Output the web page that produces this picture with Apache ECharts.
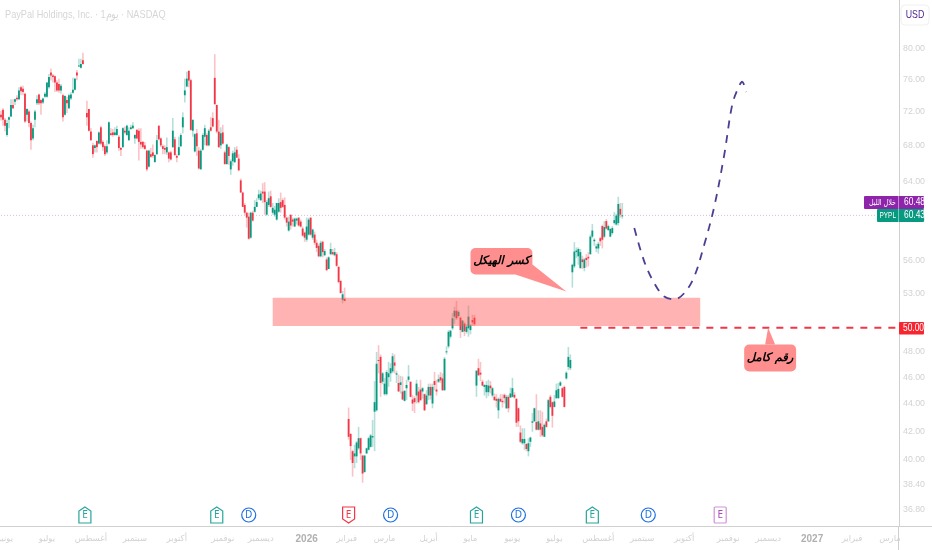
<!DOCTYPE html>
<html><head><meta charset="utf-8">
<style>html,body{margin:0;padding:0;background:#fff}#c{width:932px;height:550px}</style>
<script src="https://cdn.jsdelivr.net/npm/echarts@6/dist/echarts.min.js"></script>
</head><body><div id="c"></div>
<script>
const opens=[71.6,72.2,71.0,69.2,71.0,71.4,72.8,73.2,73.7,73.5,
75.0,74.8,74.2,71.6,72.0,70.6,68.8,71.0,73.0,74.1,
73.4,73.1,73.8,73.8,75.0,76.9,76.5,76.4,75.6,75.4,
74.6,74.0,71.6,73.4,72.4,73.6,74.3,74.7,76.9,77.7,
77.5,78.5,null,
71.8,72.3,69.6,68.0,67.7,68.5,68.2,70.1,68.4,67.9,
67.2,68.2,69.4,69.5,69.2,69.2,69.0,67.7,67.8,69.7,
69.2,68.6,69.9,70.0,68.8,69.8,69.7,68.4,68.4,68.0,
67.4,65.6,67.0,67.2,66.1,67.0,70.3,68.8,67.9,67.7,
67.2,67.2,67.2,67.8,68.7,66.8,66.9,67.9,70.1,74.0,
75.1,77.1,75.9,69.7,67.3,69.4,67.4,65.3,67.5,69.0,
69.2,68.0,70.1,71.2,76.2,72.8,69.6,68.0,69.5,67.2,
65.9,67.8,65.3,66.2,66.1,67.5,66.5,64.1,62.8,61.5,
60.7,60.3,58.2,60.7,60.8,61.3,62.2,62.0,62.9,62.9,
60.5,61.5,62.4,60.7,60.5,60.0,60.8,61.8,62.0,61.5,
60.2,58.9,60.5,60.0,59.3,59.9,60.2,59.8,59.1,58.7,
58.0,58.5,60.2,58.2,58.5,57.7,57.4,56.4,57.8,56.5,
56.1,55.2,56.6,56.8,56.5,56.6,55.4,54.1,52.4,52.5,null,
42.87,41.8,40.6,40.25,40.25,40.8,41.5,40.3,39.2,40.45,
40.7,40.9,41.55,43.4,43.5,47.35,47.6,45.65,44.7,44.7,
46.0,46.3,46.45,47.15,46.2,45.55,45.4,44.9,44.2,45.15,
45.8,45.65,44.3,44.4,44.6,44.9,45.05,44.9,44.7,43.95,
44.6,45.25,44.0,45.7,45.05,45.65,46.0,45.9,45.0,48.0,
48.45,49.25,49.95,50.95,51.45,51.0,50.85,49.65,50.35,49.65,
49.95,49.8,50.65,50.85,45.35,46.7,46.35,45.65,45.25,44.85,
44.85,45.35,44.6,44.5,44.35,43.5,44.35,44.2,44.65,43.65,
44.5,44.45,44.5,44.65,44.35,43.65,41.9,41.15,41.15,41.1,
40.6,41.25,42.6,42.7,42.65,42.1,42.55,42.3,41.6,42.7,
42.7,44.5,44.1,43.75,44.4,44.4,45.35,45.15,45.25,45.9,
46.8,46.7,54.9,55.45,56.8,56.4,55.3,56.1,55.3,56.25,
56.35,56.6,58.3,57.85,57.15,57.15,58.15,59.35,58.3,59.85,
58.95,58.3,58.65,59.65,59.5,59.65,61.1,60.35];
const closes=[71.3,71.0,70.3,70.6,71.3,72.8,72.4,73.5,73.5,74.6,
74.5,74.4,70.8,72.3,70.6,68.6,70.0,72.0,73.5,73.0,
73.0,73.6,74.2,75.6,76.3,76.5,76.3,75.6,74.6,74.6,
75.2,71.3,73.9,73.0,74.0,74.1,74.7,76.1,76.5,77.8,
78.0,78.0,null,
71.3,69.7,68.6,67.0,68.0,67.8,69.5,68.2,67.8,67.0,
67.9,70.7,69.2,69.2,69.5,69.9,67.7,67.5,70.0,69.5,
70.3,69.7,70.1,70.3,69.2,68.8,68.4,68.1,67.8,67.6,
65.3,67.4,66.7,66.8,66.9,68.6,68.7,68.0,67.6,67.5,
67.8,66.5,66.4,69.7,66.9,66.6,67.8,69.2,71.3,74.6,
76.1,75.85,69.8,71.0,69.3,67.9,65.4,67.4,69.2,70.0,
68.0,69.7,69.7,70.2,72.9,69.6,67.8,69.4,68.2,65.9,
68.1,66.8,66.2,67.1,67.2,66.6,65.2,62.8,61.3,60.7,
60.2,58.1,60.7,59.9,61.3,61.8,62.6,62.7,62.7,61.8,
61.8,62.2,61.3,61.2,61.0,61.7,61.7,61.2,61.3,60.2,
59.7,59.8,59.4,59.8,60.1,60.1,59.4,59.3,58.4,58.2,
59.3,60.0,58.5,59.0,57.7,57.2,56.4,57.7,56.8,56.9,
55.1,56.3,57.1,56.6,56.8,55.5,54.0,53.0,52.9,52.3,null,
41.6,40.95,39.8,40.45,41.2,41.5,40.45,39.1,40.3,40.8,
41.5,41.7,41.65,44.1,47.05,47.3,45.55,46.3,45.5,46.4,
46.3,46.7,47.65,46.9,46.3,44.9,45.6,44.3,44.95,45.4,
46.05,44.5,44.0,44.1,45.5,44.1,44.25,45.15,43.5,44.6,
45.25,44.6,45.25,45.4,44.9,45.85,45.75,45.0,47.45,48.05,
49.65,49.75,50.8,51.45,50.8,51.35,49.8,50.6,49.7,50.1,
50.95,50.2,50.45,50.3,46.5,46.15,46.2,45.35,45.4,45.4,
45.35,45.15,45.15,44.25,44.2,44.35,44.15,44.1,44.4,44.5,
43.65,44.75,45.15,44.45,42.6,42.7,41.25,41.45,41.45,40.75,
41.15,41.55,42.7,43.65,42.1,42.7,42.1,41.7,42.45,42.3,
44.25,43.75,43.1,44.15,45.0,45.1,45.6,44.5,43.75,46.35,
47.6,47.35,55.6,56.85,56.95,57.1,56.8,55.85,56.1,56.05,
56.2,58.3,58.9,58.0,57.35,57.6,57.85,58.0,59.25,59.1,
59.35,59.05,59.15,59.95,60.4,61.6,60.5,60.43];
const highs=[72.1,72.4,71.2,71.0,71.4,73.5,73.5,73.6,74.0,75.0,
75.2,75.2,74.3,72.4,72.2,70.8,70.4,72.2,74.0,74.2,
73.5,73.7,74.4,75.6,76.7,77.4,76.7,76.5,75.9,76.1,
75.4,74.2,74.0,73.8,74.2,74.4,76.2,76.2,77.2,78.7,
78.7,79.5,null,
73.3,72.3,70.0,68.3,68.1,68.6,69.6,70.3,68.6,68.1,
68.6,70.8,70.0,69.9,70.1,70.3,69.2,67.8,70.1,70.2,
70.4,70.1,70.4,70.7,69.3,69.9,70.0,70.0,68.5,68.4,
67.5,67.5,67.7,68.1,67.0,69.2,70.3,68.9,68.1,68.0,
68.9,67.3,67.4,71.2,69.0,67.0,69.0,69.4,71.9,76.1,
77.0,77.2,76.1,71.0,69.4,69.9,67.8,67.6,69.4,70.4,
69.4,69.9,71.3,71.9,79.3,72.8,71.0,70.1,70.4,67.4,
68.2,67.9,66.4,67.4,67.8,67.9,67.0,64.3,62.9,61.7,
60.8,60.7,60.8,60.9,62.0,62.2,63.1,63.0,63.8,63.9,
62.0,62.9,63.0,61.7,61.4,61.7,62.2,62.8,62.2,62.3,
60.3,60.3,60.5,60.2,60.2,60.2,60.2,60.0,59.3,58.8,
60.2,60.2,60.2,59.1,58.8,58.0,57.6,57.9,57.9,57.1,
56.3,56.4,57.7,57.1,57.2,56.8,55.5,54.2,53.2,53.5,null,
43.7,41.85,40.7,41.05,41.3,42.3,41.55,40.35,40.35,40.85,
41.6,41.8,42.8,45.7,48.0,48.55,47.8,46.4,45.95,46.55,
47.2,47.1,47.9,47.8,46.5,46.2,46.1,46.05,45.0,45.8,
46.95,45.65,44.65,44.55,45.8,45.25,45.8,45.25,44.75,45.0,
45.5,45.5,45.5,46.4,45.8,46.2,46.4,46.3,47.6,48.45,
49.8,49.8,51.25,51.8,52.3,51.5,50.95,50.65,50.5,50.3,
51.9,50.3,51.1,51.1,46.55,47.45,47.2,45.8,45.45,45.7,
45.8,45.7,45.25,44.75,44.7,44.45,44.7,44.7,44.75,44.65,
44.65,45.2,45.95,44.85,44.4,43.7,42.4,42.2,42.2,41.15,
41.5,41.6,43.3,43.7,44.7,43.5,43.5,43.4,42.55,42.9,
44.35,44.65,44.15,44.65,45.5,45.55,45.7,45.25,45.35,46.45,
48.4,47.8,55.7,57.75,57.25,57.25,57.1,56.45,56.25,56.6,
56.8,58.5,59.55,58.15,57.6,57.8,58.3,59.5,59.85,60.05,
59.5,59.15,59.35,60.75,60.6,62.35,61.7,61.7];
const lows=[70.9,70.3,69.6,69.0,70.0,71.3,72.3,72.8,73.3,73.4,
74.0,74.0,70.6,70.8,70.1,67.5,68.6,70.1,72.8,72.8,
71.6,72.9,73.7,73.7,74.8,75.85,75.6,74.4,74.4,74.3,
74.2,70.8,71.5,71.8,72.3,73.4,74.2,74.6,75.9,77.6,
77.4,77.9,null,
70.3,69.6,68.5,66.6,67.2,67.2,68.1,68.0,67.4,66.8,
67.0,68.1,69.1,69.0,69.1,69.1,67.4,66.8,67.7,69.3,
69.1,68.5,69.8,69.9,68.2,68.7,66.3,67.6,67.6,67.5,
65.1,65.5,66.6,66.6,66.1,66.9,68.6,67.8,67.0,67.0,
66.9,66.1,66.3,67.7,66.8,66.1,66.8,67.8,69.4,73.1,
75.0,75.0,69.7,69.0,67.2,66.8,65.3,65.3,67.4,68.0,
67.9,67.9,69.6,70.1,72.8,69.4,67.7,67.6,68.1,65.8,
65.8,65.8,64.7,65.7,66.0,66.6,65.1,62.8,61.3,60.5,
59.2,58.0,58.1,59.8,60.7,61.3,62.0,61.9,61.7,60.5,
60.4,61.3,61.2,60.5,60.3,59.9,60.7,60.7,61.2,60.0,
59.3,58.8,59.0,59.3,59.3,59.5,59.3,59.2,58.3,57.8,
57.8,58.4,58.4,58.0,57.5,56.8,56.3,56.3,56.3,56.4,
55.0,55.2,56.5,56.5,56.4,55.4,53.9,53.0,52.1,52.3,null,
41.4,40.0,38.9,39.45,39.8,40.7,40.0,38.5,39.15,40.4,
40.65,40.85,40.9,40.6,43.4,46.3,44.5,45.45,44.6,44.6,
45.25,45.65,46.3,46.3,45.55,44.9,44.75,44.25,44.15,44.25,
45.65,44.45,43.45,43.3,44.0,44.0,44.2,44.35,43.45,43.9,
44.25,44.3,43.65,45.0,44.6,45.55,45.55,44.95,44.95,47.8,
48.3,49.1,49.8,50.35,50.65,50.85,49.15,49.6,49.3,49.5,
49.25,49.45,50.15,50.15,44.5,46.1,45.7,45.3,44.6,44.4,
44.55,44.75,44.45,44.2,43.7,42.9,44.1,43.7,44.0,43.6,
43.35,44.4,44.45,44.35,42.3,42.3,41.15,41.05,40.7,40.6,
40.25,40.9,41.95,42.65,42.05,42.05,41.6,41.6,41.6,42.25,
42.65,43.65,42.25,43.7,44.35,44.35,45.3,44.45,43.7,45.8,
46.55,46.55,53.5,55.3,56.25,55.6,55.2,55.2,55.0,55.35,
55.45,56.55,58.15,57.4,56.8,56.65,57.4,57.15,58.15,59.0,
58.85,58.25,58.5,59.5,59.4,59.4,60.2,60.1];

const slotCount=450;
const monthLabels=['يونيو','يوليو','أغسطس','سبتمبر','أكتوبر','نوفمبر','ديسمبر','2026','فبراير','مارس','أبريل','مايو','يونيو','يوليو','أغسطس','سبتمبر','أكتوبر','نوفمبر','ديسمبر','2027','فبراير','مارس'];
const monthSlots=[2,23,45,67,88,111,130,153,173,192,214,235,256,277,299,321,342,364,384,406,426,445];
const priceTicks=[80,76,72,68,64,60,56,53,50,48,46,44,42,40,38.4,36.8];
const projectionSlots=[317,322,327,332,337,342,347,352,357,362,366,369,371,373];
const projectionPrices=[59.15,55.9,53.9,52.7,52.45,53.0,54.5,57.5,61.3,66.9,72.8,74.9,75.7,74.4];
const wholeLevel=50, wholeLevelSlots=[290,449];
const lastPrice=60.43, overnightPrice=60.48;
const zone=[136,350,52.6,50.15];
const calloutBreak=[235,266,57.2,54.7,283,53.15];
const calloutWhole=[372,398,48.6,46.45,384,50];
const calloutTexts=['كسر الهيكل','رقم كامل'];
const earningsUp=[42,108,238,296], earningsDown=[174], earningsNext=[360], dividends=[124,195,259,324];
const markerPrice=36.46;
const UP='#089981',DOWN='#f23645';

const cats=Array.from({length:slotCount},(_,i)=>String(i));
const labelAt={};monthSlots.forEach((s,i)=>labelAt[s]=monthLabels[i]);
const candleRows=[];
opens.forEach((o,i)=>{if(o!==null)candleRows.push([i,o,closes[i],lows[i],highs[i]]);});

function renderCandle(p,api){
  const s=api.value(0),o=api.value(1),c=api.value(2),l=api.value(3),h=api.value(4);
  const col=c>=o?UP:DOWN;
  const top=api.coord([s,h]),bot=api.coord([s,l]);
  const a=api.coord([s,Math.max(o,c)]),b=api.coord([s,Math.min(o,c)]);
  return {type:'group',children:[
    {type:'rect',shape:{x:top[0]-0.8,y:top[1],width:1.6,height:bot[1]-top[1]},style:{fill:col,opacity:0.3}},
    {type:'rect',shape:{x:a[0]-0.9,y:a[1],width:1.8,height:Math.max(1,b[1]-a[1])},style:{fill:col}}
  ]};
}
function renderZone(p,api){
  const a=api.coord([api.value(0),api.value(2)]),b=api.coord([api.value(1),api.value(3)]);
  return {type:'rect',shape:{x:a[0],y:a[1],width:b[0]-a[0],height:b[1]-a[1]},style:{fill:'rgba(255,82,82,0.44)'}};
}
function renderCallout(p,api){
  const a=api.coord([api.value(0),api.value(2)]),b=api.coord([api.value(1),api.value(3)]),t=api.coord([api.value(4),api.value(5)]);
  const i=p.dataIndex;
  const w=b[0]-a[0],cx=(a[0]+b[0])/2,cy=(a[1]+b[1])/2;
  const tail=i===0?[[b[0]-17,b[1]],[b[0],b[1]-10],t]:[[cx-5,a[1]],[cx+5,a[1]],t];
  return {type:'group',children:[
    {type:'polygon',shape:{points:tail},style:{fill:'#ff8e8e'}},
    {type:'rect',shape:{x:a[0],y:a[1],width:w,height:b[1]-a[1],r:5},style:{fill:'#ff8e8e'}},
    {type:'text',x:cx,y:cy,style:{text:calloutTexts[i],fill:'#000',font:'bold italic 11.5px "DejaVu Sans"',align:'center',verticalAlign:'middle'}}
  ]};
}
function renderMarker(p,api){
  const c=api.coord([api.value(0),markerPrice]),x=c[0],y=c[1],k=api.value(1);
  const L={fill:'#fff',lineWidth:1.2};
  let shape,color,txt='E';
  if(k===0){color='#26a69a';shape={type:'polygon',shape:{points:[[x,y-8],[x+6,y-4],[x+6,y+8],[x-6,y+8],[x-6,y-4]]}};}
  else if(k===1){color=DOWN;shape={type:'polygon',shape:{points:[[x-6,y-8],[x+6,y-8],[x+6,y+4],[x,y+8],[x-6,y+4]]}};}
  else if(k===2){color='#ce93d8';shape={type:'rect',shape:{x:x-6,y:y-8,width:12,height:16,r:1}};}
  else{color='#1e6fe0';txt='D';shape={type:'circle',shape:{cx:x,cy:y,r:7}};}
  shape.style=Object.assign({},L,{stroke:color});
  return {type:'group',children:[shape,{type:'text',x:x,y:y,style:{text:txt,fill:k===2?'#ab47bc':color,font:'10px "Noto Sans"',align:'center',verticalAlign:'middle'}}]};
}
const markerRows=[];
earningsUp.forEach(s=>markerRows.push([s,0]));
earningsDown.forEach(s=>markerRows.push([s,1]));
earningsNext.forEach(s=>markerRows.push([s,2]));
dividends.forEach(s=>markerRows.push([s,3]));

const NARROW='10.5px "Liberation Sans"';
function txt(text,x,y,fill,align,font,sx){
  return {type:'text',z:51,x,y,scaleX:sx||0.8,style:{text,fill,font:font||NARROW,align:align||'left',verticalAlign:'middle'}};
}
function box(x,y,w,h,fill){return {type:'rect',z:50,shape:{x,y,width:w,height:h,r:1},style:{fill}};}
const chart=echarts.init(document.getElementById('c'),null,{renderer:'canvas'});
chart.setOption({
  animation:false,backgroundColor:'#fff',
  grid:{left:0,right:33,top:0,bottom:24,outerBoundsMode:'none'},
  xAxis:{type:'category',data:cats,boundaryGap:true,
    axisLine:{lineStyle:{color:'#d0d0d0',width:1}},axisTick:{show:false},splitLine:{show:false},
    axisLabel:{interval:(i)=>labelAt[i]!==undefined,margin:8,fontSize:8.5,color:'#d2d2d2',fontFamily:'"DejaVu Sans"',hideOverlap:false,
      formatter:(v)=>{const t=labelAt[v];return /^\d+$/.test(t||'')?'{y|'+t+'}':(t||'');},
      rich:{y:{fontSize:10,fontWeight:'bold',color:'#b0b0b0',fontFamily:'"Liberation Sans"'}}}},
  yAxis:{type:'log',logBase:10,position:'right',min:35.79,max:86.89,
    axisLine:{show:true,lineStyle:{color:'#cfcfcf',width:1}},axisTick:{show:false},splitLine:{show:false},minorTick:{show:false},
    axisLabel:{customValues:priceTicks,margin:4,fontSize:8.8,color:'#d2d2d2',fontFamily:'"Liberation Sans"',
      formatter:(v)=>Number(v).toFixed(2)}},
  series:[
    {type:'line',data:[[0,lastPrice],[slotCount-1,lastPrice]],symbol:'none',z:1,lineStyle:{color:'#dcb9de',width:1,type:[1,2]}},
    {type:'custom',z:2,renderItem:renderCandle,data:candleRows,encode:{x:0,y:[1,2,3,4]}},
    {type:'custom',z:3,renderItem:renderZone,data:[zone],encode:{x:[0,1],y:[2,3]}},
    {type:'line',z:4,data:wholeLevelSlots.map(s=>[s,wholeLevel]),symbol:'none',lineStyle:{color:'#f23645',width:2,type:[7,7]}},
    {type:'line',z:5,smooth:0.35,data:projectionSlots.map((s,i)=>[s,projectionPrices[i]]),symbol:'none',lineStyle:{color:'#4a3f93',width:1.8,type:[8,7]}},
    {type:'custom',z:6,renderItem:renderCallout,data:[calloutBreak,calloutWhole],encode:{x:[0,1,4],y:[2,3,5]}},
    {type:'custom',z:7,renderItem:renderMarker,data:markerRows,encode:{x:0}}
  ],
  graphic:[
    txt('PayPal Holdings, Inc. · 1\u200Eيوم · NASDAQ',5,15,'#d6d6d6','left','11.5px "Liberation Sans"',0.8),
    {type:'line',z:40,shape:{x1:898.5,y1:526,x2:898.5,y2:550},style:{stroke:'#cfcfcf',lineWidth:1}},
    {type:'line',z:40,shape:{x1:899,y1:526.5,x2:932,y2:526.5},style:{stroke:'#d0d0d0',lineWidth:1}},
    {type:'rect',z:40,shape:{x:901,y:5,width:28,height:20,r:4},style:{fill:'#fff',stroke:'#f0f0f0',lineWidth:1}},
    {type:'text',z:41,x:915,y:15,scaleX:0.8,style:{text:'USD',fill:'#4a1d8f',font:'11px "Liberation Sans"',align:'center',verticalAlign:'middle'}},
    box(864,196,60,13,'#8e24aa'),
    txt('خلال الليل',896,202.5,'#fff','right','8.5px "DejaVu Sans"',0.75),
    txt(overnightPrice.toFixed(2),904,202.5,'#fff'),
    box(877,209,47,13,UP),
    txt('PYPL',896,215.5,'#fff','right','9.5px "Liberation Sans"',0.68),
    txt(lastPrice.toFixed(2),904,215.5,'#fff'),
    box(899,322,25,12.5,'#f7252f'),
    txt(wholeLevel.toFixed(2),903,328.2,'#fff'),
    {type:'line',z:52,shape:{x1:898.5,y1:196,x2:898.5,y2:222},style:{stroke:'rgba(255,255,255,.45)',lineWidth:1}}
  ]
});
</script></body></html>
